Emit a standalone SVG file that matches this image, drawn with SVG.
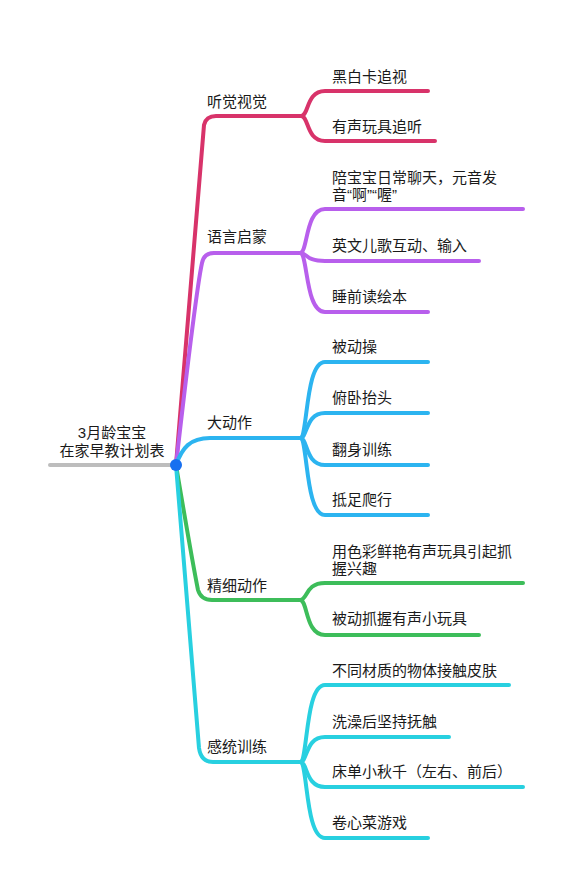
<svg xmlns="http://www.w3.org/2000/svg" width="573" height="889" viewBox="0 0 573 889">
<style>
text{font-family:"Liberation Sans","Noto Sans CJK SC",sans-serif;font-size:15px;fill:#1a1a1a}
.l{fill:none;stroke-width:4;stroke-linecap:round;stroke-linejoin:round}
.c1{stroke:#d8336a}.c2{stroke:#b85fec}.c3{stroke:#2cb4f0}.c4{stroke:#3dbd5a}.c5{stroke:#28d0e0}
</style>
<rect width="573" height="889" fill="#ffffff"/>
<g id="connectors">
<path class="l" stroke="#bdbdbd" d="M50,465 H176"/>
<path class="l c1" d="M176,465 Q198,200 204,125 Q206,116 216,116 H301"/>
<path class="l c2" d="M176,465 Q196,290 202,263 Q204,253 214,253 H300"/>
<path class="l c3" d="M176,465 C182,448 190,438 210,438 H300"/>
<path class="l c4" d="M176,465 Q192,560 198,590 Q201,600 212,600 H300"/>
<path class="l c5" d="M176,465 L199,748 Q201,762 213,762 H300"/>
<path class="l c1" d="M301,116 C309,116 306,91 325,91 H428"/>
<path class="l c1" d="M301,116 C309,116 306,141 325,141 H435"/>
<path class="l c2" d="M300,253 C308,253 305,209 325,209 H523"/>
<path class="l c2" d="M300,253 C308,253 305,261 325,261 H479"/>
<path class="l c2" d="M300,253 C308,253 305,312 325,312 H428"/>
<path class="l c3" d="M300,438 C308,438 305,362 325,362 H428"/>
<path class="l c3" d="M300,438 C308,438 305,413 325,413 H428"/>
<path class="l c3" d="M300,438 C308,438 305,465 325,465 H428"/>
<path class="l c3" d="M300,438 C308,438 305,515 325,515 H428"/>
<path class="l c4" d="M300,600 C308,600 305,583 325,583 H523"/>
<path class="l c4" d="M300,600 C308,600 305,635 325,635 H479"/>
<path class="l c5" d="M300,762 C308,762 305,685 325,685 H509"/>
<path class="l c5" d="M300,762 C308,762 305,737 325,737 H449"/>
<path class="l c5" d="M300,762 C308,762 305,787 325,787 H523"/>
<path class="l c5" d="M300,762 C308,762 305,838 325,838 H428"/>
</g>
<g id="root">
<text x="112" y="438" text-anchor="middle">3月龄宝宝</text>
<text x="112" y="456" text-anchor="middle">在家早教计划表</text>
<circle cx="176" cy="465" r="6" fill="#1870f0"/>
</g>
<g id="b1"><text x="207" y="107">听觉视觉</text></g>
<g id="b1c1"><text x="332" y="82">黑白卡追视</text></g>
<g id="b1c2"><text x="332" y="132">有声玩具追听</text></g>
<g id="b2"><text x="207" y="242">语言启蒙</text></g>
<g id="b2c1"><text x="332" y="183">陪宝宝日常聊天，元音发</text><text x="332" y="200">音“啊”“喔”</text></g>
<g id="b2c2"><text x="332" y="251">英文儿歌互动、输入</text></g>
<g id="b2c3"><text x="332" y="302">睡前读绘本</text></g>
<g id="b3"><text x="207" y="428">大动作</text></g>
<g id="b3c1"><text x="332" y="352">被动操</text></g>
<g id="b3c2"><text x="332" y="403">俯卧抬头</text></g>
<g id="b3c3"><text x="332" y="455">翻身训练</text></g>
<g id="b3c4"><text x="332" y="505">抵足爬行</text></g>
<g id="b4"><text x="207" y="591">精细动作</text></g>
<g id="b4c1"><text x="332" y="557">用色彩鲜艳有声玩具引起抓</text><text x="332" y="574">握兴趣</text></g>
<g id="b4c2"><text x="332" y="624">被动抓握有声小玩具</text></g>
<g id="b5"><text x="207" y="752">感统训练</text></g>
<g id="b5c1"><text x="332" y="676">不同材质的物体接触皮肤</text></g>
<g id="b5c2"><text x="332" y="727">洗澡后坚持抚触</text></g>
<g id="b5c3"><text x="332" y="777">床单小秋千（左右、前后）</text></g>
<g id="b5c4"><text x="332" y="828">卷心菜游戏</text></g>
</svg>
